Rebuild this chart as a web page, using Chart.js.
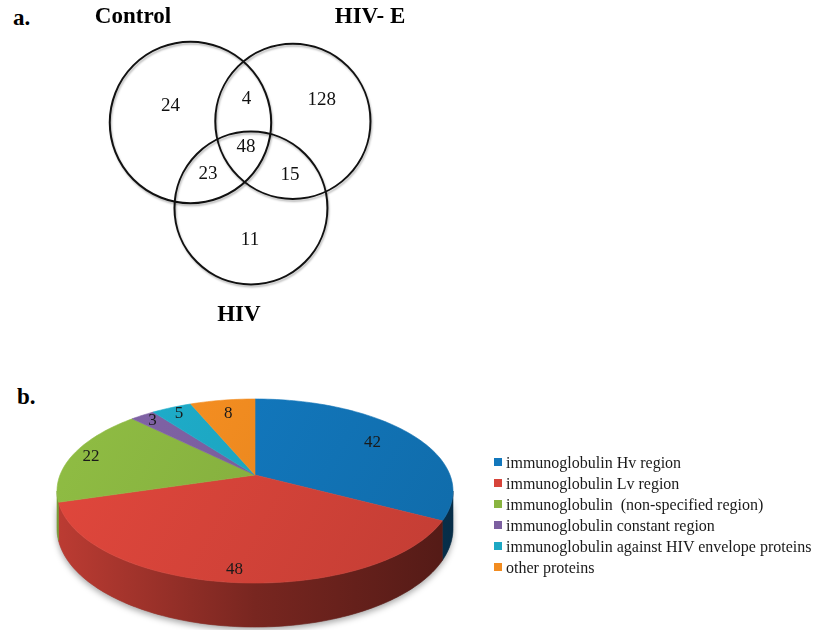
<!DOCTYPE html>
<html>
<head>
<meta charset="utf-8">
<script src="https://cdn.jsdelivr.net/npm/chart.js@4.4.1/dist/chart.umd.min.js"></script>
<style>
  html, body { margin: 0; padding: 0; background: #fff; }
  #wrap { position: relative; width: 816px; height: 630px; overflow: hidden; font-family: "Liberation Serif", "Times New Roman", serif; }
  canvas { position: absolute; }
  .panel { position: absolute; font-weight: bold; font-size: 23px; line-height: 23px; color: #000; }
  #legend { position: absolute; left: 494px; top: 452px; font-size: 16px; color: #1a1a1a; }
  #legend .row { display: flex; align-items: center; height: 21px; white-space: pre; }
  #legend .sw { width: 8px; height: 8px; margin-right: 4px; margin-top: -2px; flex: none; }
</style>
</head>
<body>
<div id="wrap">
  <div class="panel" style="left:13px;top:6px;">a.</div>
  <div class="panel" style="left:17px;top:385px;">b.</div>
  <canvas id="venn" width="420" height="340" style="left:0;top:0;"></canvas>
  <canvas id="pie" width="510" height="260" style="left:0;top:370px;"></canvas>
  <div id="legend"></div>
</div>
<script>
// ---------- Venn diagram data ----------
const vennSets = ['Control', 'HIV- E', 'HIV'];
const vennCenterX = [0, 1.28, 0.756];
const vennCenterY = [0, 0.015, -1.069];
const vennRadius = [1.009, 0.97, 0.956];
const setLabelX = [-0.719, 2.244, 0.606];
const setLabelY = [1.319, 1.319, -2.406];
// regions: Control only, Control∩HIV-E, HIV-E only, all three, Control∩HIV, HIV-E∩HIV, HIV only
const regionCounts = [24, 4, 128, 48, 23, 15, 11];
const regionX = [-0.25, 0.70, 1.64, 0.694, 0.219, 1.244, 0.744];
const regionY = [0.206, 0.294, 0.281, -0.306, -0.644, -0.656, -1.469];

// ---------- Pie data ----------
const pieCategories = [
  'immunoglobulin Hv region',
  'immunoglobulin Lv region',
  'immunoglobulin  (non-specified region)',
  'immunoglobulin constant region',
  'immunoglobulin against HIV envelope proteins',
  'other proteins'
];
const pieValues = [42, 48, 22, 3, 5, 8];
const pieColors = ['#1277BC', '#D7443A', '#89B440', '#7C5FA0', '#1DA8C4', '#F28C20'];
const pieLabelDist = [0.75, 0.9, 0.9, 0.9, 0.9, 0.8];

const SERIF = '"Liberation Serif", "Times New Roman", serif';

// ---------- Venn chart ----------
const vennText = {
  id: 'vennText',
  beforeDatasetsDraw(chart) {
    const ctx = chart.ctx;
    ctx.save();
    ctx.shadowColor = 'rgba(0,0,0,0.28)';
    ctx.shadowOffsetX = 1;
    ctx.shadowOffsetY = 2;
    ctx.shadowBlur = 2;
  },
  afterDatasetsDraw(chart) {
    chart.ctx.restore();
  },
  afterDraw(chart) {
    const ctx = chart.ctx, xs = chart.scales.x, ys = chart.scales.y;
    ctx.save();
    ctx.fillStyle = '#000';
    ctx.textAlign = 'center';
    ctx.textBaseline = 'middle';
    ctx.font = 'bold 23px ' + SERIF;
    vennSets.forEach((s, i) => ctx.fillText(s, xs.getPixelForValue(setLabelX[i]), ys.getPixelForValue(setLabelY[i])));
    ctx.font = '19px ' + SERIF;
    ctx.fillStyle = '#111';
    regionCounts.forEach((c, i) => ctx.fillText(String(c), xs.getPixelForValue(regionX[i]), ys.getPixelForValue(regionY[i])));
    ctx.restore();
  }
};

new Chart(document.getElementById('venn'), {
  type: 'scatter',
  data: {
    datasets: [{
      data: vennSets.map((s, i) => ({ x: vennCenterX[i], y: vennCenterY[i] })),
      pointRadius: (c) => {
        const s = c.chart.scales.x;
        if (!s || c.dataIndex === undefined) return 0;
        return Math.abs(s.getPixelForValue(vennRadius[c.dataIndex]) - s.getPixelForValue(0));
      },
      pointHoverRadius: (c) => {
        const s = c.chart.scales.x;
        if (!s || c.dataIndex === undefined) return 0;
        return Math.abs(s.getPixelForValue(vennRadius[c.dataIndex]) - s.getPixelForValue(0));
      },
      pointBackgroundColor: 'rgba(0,0,0,0)',
      pointBorderColor: '#111',
      pointBorderWidth: 2,
      clip: false
    }]
  },
  options: {
    responsive: false,
    animation: false,
    events: [],
    layout: { padding: 0 },
    plugins: { legend: { display: false }, tooltip: { enabled: false } },
    scales: {
      x: { display: false, min: -2.381, max: 2.869 },
      y: { display: false, min: -2.719, max: 1.531 }
    }
  },
  plugins: [vennText]
});

// ---------- 3D pie ----------
const PK = 0.174, PSX = 1.857, PSY = 0.85, PDEPTH = 0.346;
function proj(cx, cy, R, a, f) {
  const u = Math.cos(a) * f, v = Math.sin(a) * f;
  const den = 1 - PK * v;
  return [cx + R * PSX * u / den, cy + R * PSY * v / den, den];
}
function shade(hex, k) {
  const n = parseInt(hex.slice(1), 16);
  const r = Math.min(255, Math.round(((n >> 16) & 255) * k));
  const g = Math.min(255, Math.round(((n >> 8) & 255) * k));
  const b = Math.min(255, Math.round((n & 255) * k));
  return 'rgb(' + r + ',' + g + ',' + b + ')';
}

const pie3d = {
  id: 'pie3d',
  beforeDatasetsDraw(chart) {
    const ctx = chart.ctx;
    const arcs = chart.getDatasetMeta(0).data;
    const cx = arcs[0].x, cy = arcs[0].y, R = arcs[0].outerRadius;
    const lo = Math.asin(PK), hi = Math.PI - Math.asin(PK);
    const N = 160;
    const left = cx - R * PSX * 1.03, right = cx + R * PSX * 1.03;

    // soft shadow under the body
    ctx.save();
    ctx.beginPath();
    for (let i = 0; i <= N; i++) {
      const a = lo + (hi - lo) * i / N;
      const [x, y, den] = proj(cx, cy, R, a, 1);
      const yy = y + R * PDEPTH / den;
      if (i === 0) ctx.moveTo(x, y); 
      ctx.lineTo(x, yy);
    }
    for (let i = N; i >= 0; i--) {
      const a = lo + (hi - lo) * i / N;
      const [x, y] = proj(cx, cy, R, a, 1);
      ctx.lineTo(x, y);
    }
    ctx.closePath();
    ctx.shadowColor = 'rgba(0,0,0,0.35)';
    ctx.shadowBlur = 6;
    ctx.shadowOffsetY = 3;
    ctx.fillStyle = '#888';
    ctx.fill();
    ctx.restore();

    // side walls
    arcs.forEach((el, i) => {
      const s = Math.max(el.startAngle, lo), e = Math.min(el.endAngle, hi);
      if (e <= s) return;
      const base = el.options.backgroundColor;
      const g = ctx.createLinearGradient(left, 0, right, 0);
      g.addColorStop(0, shade(base, 0.88));
      g.addColorStop(0.5, shade(base, 0.56));
      g.addColorStop(1, shade(base, 0.38));
      ctx.beginPath();
      const M = Math.max(2, Math.ceil(N * (e - s) / (hi - lo)));
      for (let k = 0; k <= M; k++) {
        const a = s + (e - s) * k / M;
        const [x, y] = proj(cx, cy, R, a, 1);
        if (k === 0) ctx.moveTo(x, y); else ctx.lineTo(x, y);
      }
      for (let k = M; k >= 0; k--) {
        const a = s + (e - s) * k / M;
        const [x, y, den] = proj(cx, cy, R, a, 1);
        ctx.lineTo(x, y + R * PDEPTH / den);
      }
      ctx.closePath();
      ctx.fillStyle = g;
      ctx.fill();
      ctx.strokeStyle = g;
      ctx.lineWidth = 0.6;
      ctx.stroke();
    });

    // top faces
    const top = cy - R * PSY * 1.2, bottom = cy + R * PSY * 1.25;
    arcs.forEach((el) => {
      const s = el.startAngle, e = el.endAngle;
      const base = el.options.backgroundColor;
      const g = ctx.createLinearGradient(left, top, right, bottom);
      g.addColorStop(0, shade(base, 1.06));
      g.addColorStop(1, shade(base, 0.9));
      ctx.beginPath();
      ctx.moveTo(cx, cy);
      const M = Math.max(4, Math.ceil(240 * (e - s) / (2 * Math.PI)));
      for (let k = 0; k <= M; k++) {
        const a = s + (e - s) * k / M;
        const [x, y] = proj(cx, cy, R, a, 1);
        ctx.lineTo(x, y);
      }
      ctx.closePath();
      ctx.fillStyle = g;
      ctx.fill();
      ctx.strokeStyle = g;
      ctx.lineWidth = 0.6;
      ctx.stroke();
    });
    return false;
  },
  afterDraw(chart) {
    const ctx = chart.ctx;
    const arcs = chart.getDatasetMeta(0).data;
    ctx.save();
    ctx.font = '17px ' + SERIF;
    ctx.fillStyle = '#1a1a1a';
    ctx.textAlign = 'center';
    ctx.textBaseline = 'middle';
    arcs.forEach((el, i) => {
      const mid = (el.startAngle + el.endAngle) / 2;
      const [x, y] = proj(el.x, el.y, el.outerRadius, mid, pieLabelDist[i]);
      ctx.fillText(String(pieValues[i]), x, y);
    });
    ctx.restore();
  }
};

new Chart(document.getElementById('pie'), {
  type: 'pie',
  data: {
    labels: pieCategories,
    datasets: [{ data: pieValues, backgroundColor: pieColors, borderWidth: 0 }]
  },
  options: {
    responsive: false,
    animation: false,
    events: [],
    layout: { padding: { bottom: 50 } },
    plugins: { legend: { display: false }, tooltip: { enabled: false } }
  },
  plugins: [pie3d]
});

// ---------- legend ----------
const legend = document.getElementById('legend');
pieCategories.forEach((name, i) => {
  const row = document.createElement('div');
  row.className = 'row';
  const sw = document.createElement('span');
  sw.className = 'sw';
  sw.style.background = pieColors[i];
  const t = document.createElement('span');
  t.textContent = name;
  row.appendChild(sw);
  row.appendChild(t);
  legend.appendChild(row);
});
</script>
</body>
</html>
